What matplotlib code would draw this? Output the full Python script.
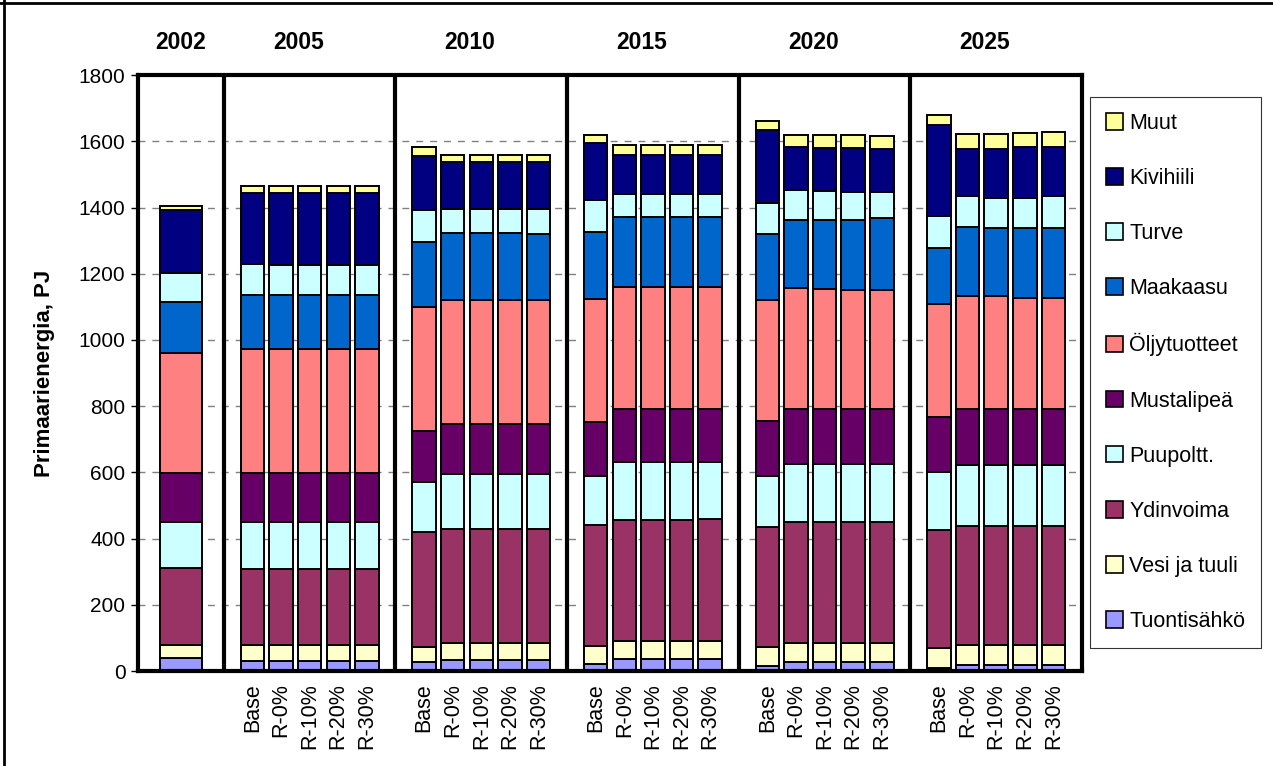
import numpy as np
import matplotlib
matplotlib.use("Agg")
import matplotlib.pyplot as plt
from matplotlib.lines import Line2D
from matplotlib.patches import Patch

plt.rcParams['font.family'] = ['Liberation Sans', 'DejaVu Sans']

years = ['2002', '2005', '2010', '2015', '2020', '2025']
scenarios = ['Base', 'R-0%', 'R-10%', 'R-20%', 'R-30%']

# bar order: 2002, then Base, R-0%, R-10%, R-20%, R-30% for 2005..2025
tuontisahko = [40, 30, 30, 30, 30, 30, 26, 34, 34, 34, 34, 22, 36, 36, 36, 36,
               14, 26, 26, 26, 26, 10, 18, 18, 18, 18]
vesi_tuuli = [38, 48, 48, 48, 48, 48, 48, 50, 50, 50, 50, 54, 54, 54, 54, 54,
              58, 60, 60, 60, 60, 60, 62, 62, 62, 62]
ydinvoima = [234, 230, 230, 230, 230, 230, 346, 346, 346, 346, 346, 366, 366, 366, 366, 370,
             364, 364, 364, 364, 364, 356, 358, 358, 358, 358]
puupoltt = [138, 142, 142, 142, 142, 142, 150, 164, 164, 164, 164, 148, 174, 174, 174, 170,
            154, 176, 176, 176, 176, 174, 184, 184, 184, 184]
mustalipea = [148, 148, 148, 148, 148, 148, 154, 152, 152, 152, 152, 162, 160, 160, 160, 160,
              166, 166, 166, 166, 166, 168, 170, 170, 170, 170]
oljytuotteet = [364, 374, 374, 374, 374, 374, 376, 376, 376, 376, 374, 371, 370, 370, 370, 370,
                364, 364, 363, 360, 358, 342, 342, 340, 336, 334]
maakaasu = [152, 164, 164, 164, 164, 164, 196, 200, 200, 200, 200, 203, 210, 210, 210, 210,
            200, 206, 207, 210, 218, 168, 206, 206, 210, 212]
turve = [88, 92, 90, 90, 90, 90, 96, 72, 72, 72, 74, 96, 72, 72, 72, 72,
         94, 90, 88, 86, 80, 96, 94, 92, 92, 96]
kivihiili = [190, 217, 219, 219, 219, 219, 164, 142, 142, 142, 142, 172, 116, 116, 116, 116,
             220, 130, 130, 132, 129, 276, 144, 146, 152, 148]
muut = [14, 19, 19, 19, 19, 19, 26, 24, 24, 24, 24, 26, 30, 30, 30, 30,
        26, 38, 40, 40, 40, 28, 44, 45, 44, 45]

series = [
    ('Tuontisähkö', tuontisahko, '#9999FF'),
    ('Vesi ja tuuli', vesi_tuuli, '#FFFFCC'),
    ('Ydinvoima', ydinvoima, '#993366'),
    ('Puupoltt.', puupoltt, '#CCFFFF'),
    ('Mustalipeä', mustalipea, '#660066'),
    ('Öljytuotteet', oljytuotteet, '#FF8080'),
    ('Maakaasu', maakaasu, '#0066CC'),
    ('Turve', turve, '#CCFFFF'),
    ('Kivihiili', kivihiili, '#000080'),
    ('Muut', muut, '#FFFF99'),
]

# x layout: 2002 block is 3 slots wide, every later year 6 slots
n_groups = len(years) - 1
pos = [1.5]
widths = [1.47]
for g in range(n_groups):
    for k in range(len(scenarios)):
        pos.append(3 + 6 * g + 1 + k)
        widths.append(0.82)
pos = np.array(pos)
seps = [3 + 6 * g for g in range(n_groups)]

fig = plt.figure(figsize=(12.73, 7.66), dpi=100)
ax = fig.add_axes([0.1084, 0.124, 0.7416, 0.778])

bottom = np.zeros(len(pos))
for name, vals, col in series:
    vals = np.array(vals, dtype=float)
    ax.bar(pos, vals, width=widths, bottom=bottom, color=col,
           edgecolor='black', linewidth=1.4, label=name, zorder=3)
    bottom += vals

ax.set_xlim(0, 3 + 6 * n_groups)
ax.set_ylim(0, 1800)
ax.set_yticks(np.arange(0, 1801, 200))
ax.tick_params(axis='y', labelsize=15, direction='out', length=5, width=1, pad=4)
ax.yaxis.grid(True, color='#808080', linestyle=(0, (5, 5)), linewidth=1)
ax.set_axisbelow(True)

ax.set_xticks(pos[1:])
ax.set_xticklabels(scenarios * n_groups, rotation=90, fontsize=15.5)
ax.tick_params(axis='x', length=0, pad=9)

for s in seps:
    ax.axvline(s, color='black', linewidth=3, zorder=4)
for sp in ax.spines.values():
    sp.set_linewidth(3)
    sp.set_zorder(5)

ax.set_ylabel('Primaarienergia, PJ', fontsize=16, fontweight='bold')
ax.yaxis.set_label_coords(-0.088, 0.5)

# year headers above each block
ax.text(pos[0], 1.054, years[0], transform=ax.get_xaxis_transform(),
        ha='center', va='center', fontsize=16.5, fontweight='bold')
for g in range(n_groups):
    ax.text(seps[g] + 3 - 0.4, 1.054, years[g + 1], transform=ax.get_xaxis_transform(),
            ha='center', va='center', fontsize=16.5, fontweight='bold')

handles = [Patch(facecolor=col, edgecolor='black', linewidth=1.2, label=name)
           for name, vals, col in series][::-1]
leg = fig.legend(handles=handles, loc='upper left', bbox_to_anchor=(0.8563, 0.873),
                 fontsize=15.5, frameon=True, fancybox=False, edgecolor='black',
                 labelspacing=1.585, handlelength=0.8, handleheight=0.8,
                 handletextpad=0.3, borderpad=0.72, borderaxespad=0)
leg.get_frame().set_linewidth(0.8)

# outer chart border (top and left visible)
fig.add_artist(Line2D([0, 1], [0.996, 0.996], color='black', linewidth=2, transform=fig.transFigure))
fig.add_artist(Line2D([0.0028, 0.0028], [0, 1], color='black', linewidth=2, transform=fig.transFigure))

fig.savefig('out.png', dpi=100)
